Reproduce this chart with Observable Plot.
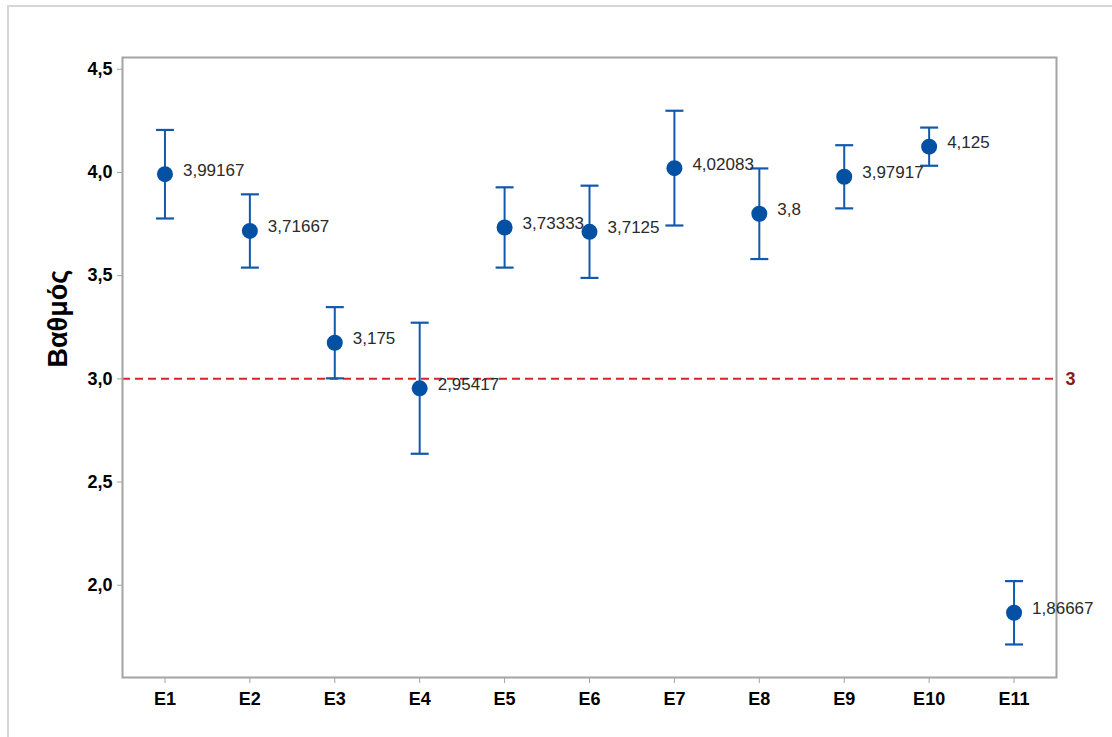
<!DOCTYPE html>
<html>
<head>
<meta charset="utf-8">
<script src="https://cdn.jsdelivr.net/npm/d3@7"></script>
<script src="https://cdn.jsdelivr.net/npm/@observablehq/plot@0.6"></script>
<style>
  html, body { margin: 0; padding: 0; background: #fff; }
  #wrap { position: relative; width: 1112px; height: 737px; overflow: hidden; }
  #edge { position: absolute; left: 7px; top: 5px; right: -10px; bottom: -10px;
          border-left: 2px solid #d6d6d6; border-top: 2px solid #d6d6d6; pointer-events: none; }
  #chart { position: absolute; left: 0; top: 0; }
</style>
</head>
<body>
<div id="wrap"><div id="chart"></div><div id="edge"></div></div>
<script>
// Items, their means and interval bounds
const items = ["E1", "E2", "E3", "E4", "E5", "E6", "E7", "E8", "E9", "E10", "E11"];
const means = [3.99167, 3.71667, 3.175, 2.95417, 3.73333, 3.7125, 4.02083, 3.8, 3.97917, 4.125, 1.86667];
const lower = [3.777, 3.539, 3.0025, 2.637, 3.539, 3.489, 3.743, 3.5805, 3.826, 4.0325, 1.713];
const upper = [4.206, 3.894, 3.3475, 3.272, 3.928, 3.936, 4.299, 4.0195, 4.132, 4.2175, 2.020];
const yTicks = [2.0, 2.5, 3.0, 3.5, 4.0, 4.5];
const refValue = 3;
const yTitle = "Βαθμός";

const rows = items.map((item, i) => ({item, mean: means[i], lo: lower[i], hi: upper[i]}));
const comma = v => String(v).replace(".", ",");

// horizontal cap used at both ends of each interval
const cap = {
  draw(ctx, size) {
    const w = Math.sqrt(size / Math.PI);
    ctx.moveTo(-w, 0);
    ctx.lineTo(w, 0);
  }
};

const barColor = "#1258ad";
const dotColor = "#0450a2";

const chart = Plot.plot({
  width: 1112,
  height: 737,
  marginLeft: 122,
  marginRight: 56,
  marginTop: 57,
  marginBottom: 60,
  style: {fontFamily: "'Liberation Sans', Arial, sans-serif", background: "white"},
  x: {type: "point", domain: items, padding: 0.5, round: false},
  y: {domain: [1.553, 4.557]},
  marks: [
    Plot.ruleY([refValue], {y: d => d, stroke: "#d42626", strokeWidth: 2, strokeDasharray: "8,5"}),
    Plot.text([refValue], {y: d => d, text: d => String(d), frameAnchor: "right", dx: 9,
      textAnchor: "start", fill: "#8b1a1a", fontWeight: "bold", fontSize: 18}),
    Plot.frame({stroke: "#a3a3a3", strokeWidth: 2}),
    Plot.axisY({ticks: yTicks, tickFormat: d => d.toFixed(1).replace(".", ","), tickSize: 5,
      tickPadding: 5, stroke: "#a3a3a3", fill: "black", fontSize: 18, fontWeight: "bold", label: null}),
    Plot.axisX({tickSize: 6, tickPadding: 9, stroke: "#a3a3a3", fill: "black",
      fontSize: 18, fontWeight: "bold", label: null}),
    Plot.text([yTitle], {frameAnchor: "left", dx: -64, rotate: -90, fontSize: 27,
      fontWeight: "bold", fill: "black"}),
    Plot.ruleX(rows, {x: "item", y1: "lo", y2: "hi", stroke: barColor, strokeWidth: 2}),
    Plot.dot(rows, {x: "item", y: "lo", symbol: cap, r: 9, stroke: barColor, strokeWidth: 2.2, fill: "none"}),
    Plot.dot(rows, {x: "item", y: "hi", symbol: cap, r: 9, stroke: barColor, strokeWidth: 2.2, fill: "none"}),
    Plot.dot(rows, {x: "item", y: "mean", r: 8, fill: dotColor, stroke: "none"}),
    Plot.text(rows, {x: "item", y: "mean", text: d => comma(d.mean), dx: 18, dy: -4,
      textAnchor: "start", fontSize: 17, fill: "#2a2a2a"})
  ]
});

document.getElementById("chart").appendChild(chart);
</script>
</body>
</html>
